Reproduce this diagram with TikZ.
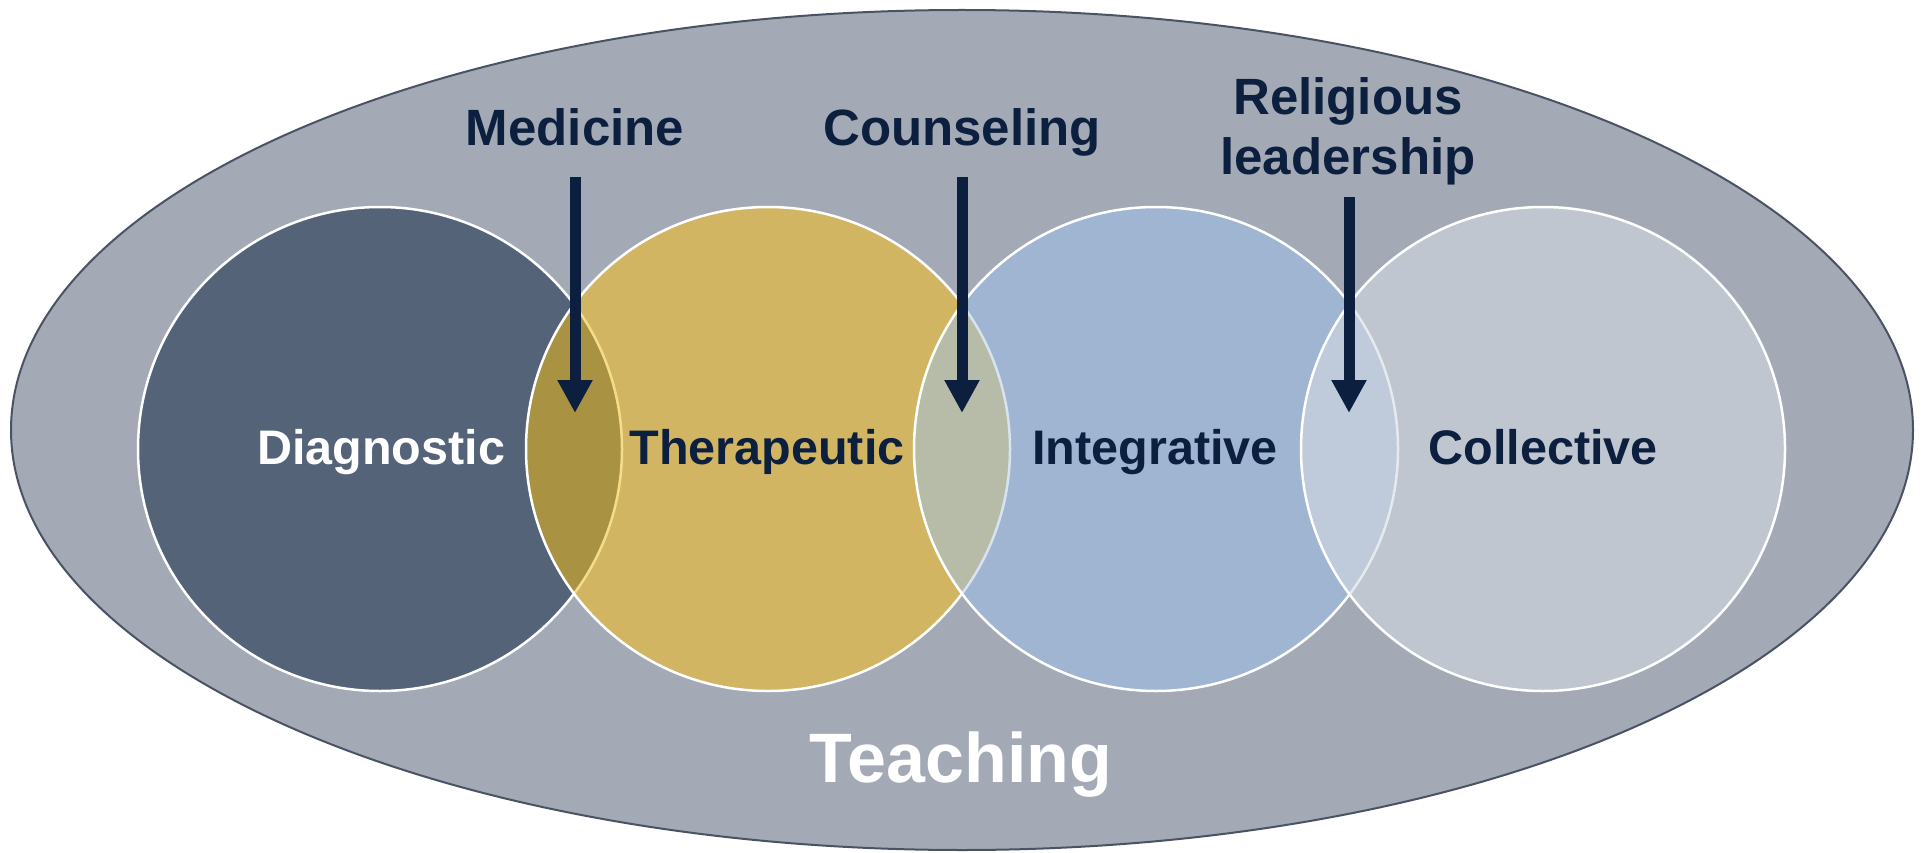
\documentclass[tikz,border=0pt]{standalone}
\usepackage{fontspec}
\setmainfont{Liberation Sans}
\usetikzlibrary{arrows.meta}

\definecolor{teachbg}{HTML}{A3AAB5}
\definecolor{teachline}{HTML}{4B5263}
\definecolor{diagfill}{HTML}{546378}
\definecolor{therfill}{HTML}{D1B562}
\definecolor{integfill}{HTML}{A0B5D2}
\definecolor{collfill}{HTML}{BFC6CF}
\definecolor{lensDT}{HTML}{AA9243}
\definecolor{lensTI}{HTML}{B6BCA7}
\definecolor{lensIC}{HTML}{BFCADB}
\definecolor{tintDT}{HTML}{F5DC8A}
\definecolor{tintTI}{HTML}{D8E3F2}
\definecolor{tintIC}{HTML}{E6E9EE}
\definecolor{navy}{HTML}{0C1F3F}

\tikzset{
  ring/.style={draw=white, line width=2.5pt},
  lbl/.style={font=\fontsize{51}{56}\selectfont\bfseries, text=navy, inner sep=0pt, anchor=base},
  circlbl/.style={font=\fontsize{48.5}{54}\selectfont\bfseries, text=navy, inner sep=0pt, anchor=base},
  biglbl/.style={font=\fontsize{70}{77}\selectfont\bfseries, text=white, inner sep=0pt, anchor=base},
  pointer/.style={draw=navy, line width=11pt,
    -{Triangle[width=33pt,length=33pt]}}
}

\begin{document}
\begin{tikzpicture}[x=1pt, y=-1pt]
  \useasboundingbox (0,0) rectangle (1925,853);

  % outer "Teaching" ellipse
  \fill[teachbg] (962,430) ellipse [x radius=951, y radius=420];
  \draw[teachline, line width=2pt] (962,430) ellipse [x radius=951, y radius=420];

  % the four circles, left to right
  \def\R{242}
  \fill[diagfill]  (380,449) circle (\R);
  \draw[ring]      (380,449) circle (\R);

  \fill[therfill]  (768,449) circle (\R);
  \begin{scope}
    \clip (768,449) circle (\R);
    \fill[lensDT] (380,449) circle (\R);
    \draw[draw=tintDT, line width=2.5pt] (380,449) circle (\R);
  \end{scope}
  \draw[ring]      (768,449) circle (\R);

  \fill[integfill] (1156,449) circle (\R);
  \begin{scope}
    \clip (1156,449) circle (\R);
    \fill[lensTI] (768,449) circle (\R);
    \draw[draw=tintTI, line width=2.5pt] (768,449) circle (\R);
  \end{scope}
  \draw[ring]      (1156,449) circle (\R);

  \fill[collfill]  (1543,449) circle (\R);
  \begin{scope}
    \clip (1543,449) circle (\R);
    \fill[lensIC] (1156,449) circle (\R);
    \draw[draw=tintIC, line width=2.5pt] (1156,449) circle (\R);
  \end{scope}
  \draw[ring]      (1543,449) circle (\R);

  % circle labels
  \node[circlbl, text=white] (diag)  at (381,464)  {Diagnostic};
  \node[circlbl]             (ther)  at (767,464)  {Therapeutic};
  \node[circlbl]             (integ) at (1155,464) {Integrative};
  \node[circlbl]             (coll)  at (1543,464) {Collective};

  % outer label
  \node[biglbl] (teach) at (961,782) {Teaching};

  % overlap labels
  \node[lbl] (med)   at (575,146)  {Medicine};
  \node[lbl] (couns) at (962,146)  {Counseling};
  \node[lbl] (relig) at (1348,115) {Religious};
  \node[lbl] (lead)  at (1348,175) {leadership};

  % arrow ends
  \coordinate (medA)   at (575,177);
  \coordinate (medB)   at (575,413);
  \coordinate (counsA) at (962,177);
  \coordinate (counsB) at (962,413);
  \coordinate (leadA)  at (1349,197);
  \coordinate (leadB)  at (1349,413);

  \draw[pointer] (medA)   -- (medB);
  \draw[pointer] (counsA) -- (counsB);
  \draw[pointer] (leadA)  -- (leadB);
\end{tikzpicture}
\end{document}
